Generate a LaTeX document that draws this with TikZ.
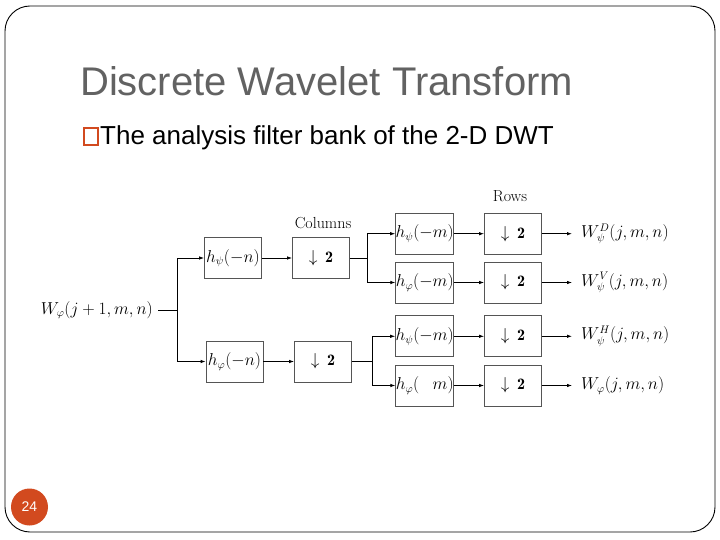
\documentclass[tikz,border=0pt]{standalone}
\usepackage{fontspec}
\newfontfamily\slidefont{Liberation Sans}
\usetikzlibrary{arrows.meta}
\definecolor{titlegray}{HTML}{626262}
\definecolor{slideorange}{HTML}{D24A1F}
\definecolor{boxgray}{HTML}{555555}
\begin{document}
\begin{tikzpicture}[x=1pt,y=-1pt,
  fbox/.style={draw=boxgray,line width=0.8pt,minimum width=57pt,minimum height=41pt,inner sep=0pt,font=\fontsize{16}{18}\selectfont},
  lbl/.style={inner sep=0pt,font=\fontsize{16}{18}\selectfont},
  conn/.style={line width=0.8pt},
  arr/.style={conn,-{Latex[length=5pt,width=3.5pt]}}]
\useasboundingbox (0,0) rectangle (720,540);
% frame
\draw[line width=0.9pt,rounded corners=25pt] (5,6) rectangle (715,532);
% title
\node[anchor=base west,inner sep=0pt,text=titlegray,font=\slidefont\fontsize{40}{44}\selectfont] (title) at (80,96) {Discrete Wavelet Transform};
\node[draw=slideorange,line width=1.2pt,minimum width=14pt,minimum height=17pt,inner sep=0pt] (bullet) at (91,136.5) {};
\node[anchor=base west,inner sep=0pt,font=\slidefont\fontsize{26}{30}\selectfont] (sub) at (100,145) {The analysis filter bank of the 2-D DWT};
% page number
\node[circle,fill=slideorange,minimum size=37pt,inner sep=0pt,text=white,font=\slidefont\fontsize{14}{16}\selectfont] (page) at (29.5,507) {24};
% labels
\node[lbl] (cols) at (323,223) {Columns};
\node[lbl] (rows) at (510,196) {Rows};
% input
\node[lbl,anchor=east] (in) at (153,310) {$W_\varphi(j+1,m,n)$};
\coordinate (b0) at (177,310);
% column filters
\node[fbox] (cf1) at (233,258) {$h_\psi(-n)$};
\node[fbox] (cf2) at (234.5,361.5) {$h_\varphi(-n)$};
\node[fbox] (cd1) at (321,258) {$\downarrow\,\mathbf{2}$};
\node[fbox] (cd2) at (323,361.5) {$\downarrow\,\mathbf{2}$};
\coordinate (b1) at (367,258);
\coordinate (b2) at (372,361.5);
% row filters
\node[fbox] (rf1) at (424.7,233.7) {$h_\psi(-m)$};
\node[fbox] (rf2) at (424.7,282.5) {$h_\varphi(-m)$};
\node[fbox] (rf3) at (424.7,336.3) {$h_\psi(-m)$};
\node[fbox] (rf4) at (424.7,385.5) {$h_\varphi(\phantom{-}m)$};
\node[fbox] (rd1) at (513,233.7) {$\downarrow\,\mathbf{2}$};
\node[fbox] (rd2) at (513,282.5) {$\downarrow\,\mathbf{2}$};
\node[fbox] (rd3) at (513,336.3) {$\downarrow\,\mathbf{2}$};
\node[fbox] (rd4) at (513,385.5) {$\downarrow\,\mathbf{2}$};
% outputs
\node[lbl,anchor=west] (o1) at (581,233.7) {$W_\psi^D(j,m,n)$};
\node[lbl,anchor=west] (o2) at (581,282.5) {$W_\psi^V(j,m,n)$};
\node[lbl,anchor=west] (o3) at (581,336.3) {$W_\psi^H(j,m,n)$};
\node[lbl,anchor=west] (o4) at (581,385.5) {$W_\varphi(j,m,n)$};
% connectors
\draw[conn] ([xshift=5pt]in.east) -- (b0);
\draw[arr] (b0) |- (cf1.west);
\draw[arr] (b0) |- (cf2.west);
\draw[arr] (cf1) -- (cd1);
\draw[arr] (cf2) -- (cd2);
\draw[conn] (cd1) -- (b1);
\draw[conn] (cd2) -- (b2);
\draw[arr] (b1) |- (rf1.west);
\draw[arr] (b1) |- (rf2.west);
\draw[arr] (b2) |- (rf3.west);
\draw[arr] (b2) |- (rf4.west);
\foreach \i in {1,2,3,4}{
  \draw[arr] (rf\i) -- (rd\i);
  \draw[arr] (rd\i) -- ([xshift=-9pt]o\i.west);
}
\end{tikzpicture}
\end{document}
